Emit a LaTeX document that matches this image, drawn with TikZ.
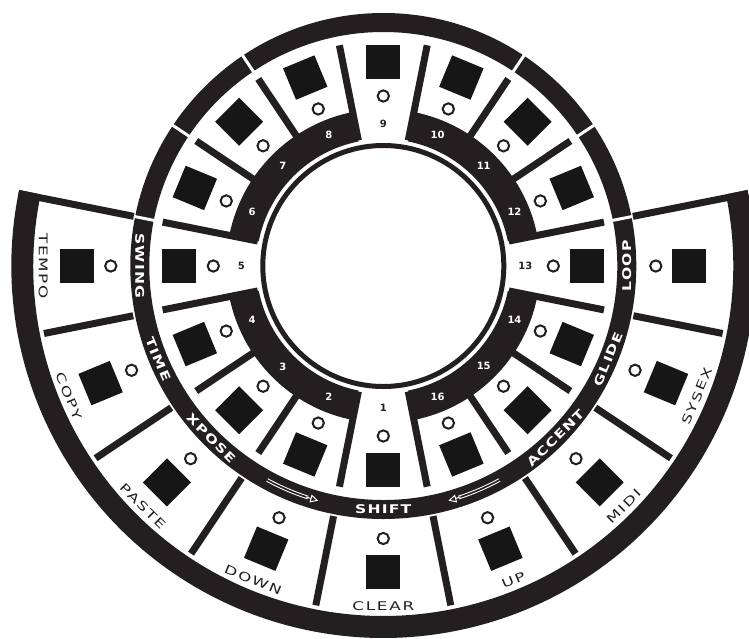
\documentclass[tikz,border=0pt]{standalone}
\usepackage{fontspec}
\setmainfont{DejaVu Sans}
\newfontfamily\padfont[FakeStretch=1.4, LetterSpace=15]{DejaVu Sans}
\newfontfamily\bandfont[FakeStretch=1.3, LetterSpace=10]{DejaVu Sans}
\usetikzlibrary{arrows.meta}
\definecolor{panelblack}{RGB}{35, 31, 32}
\definecolor{padblack}{RGB}{22, 22, 22}
\tikzset{
    pad/.style={rectangle, fill=padblack, minimum size=34pt, inner sep=0pt},
    led/.style={circle, draw=panelblack, fill=white, line width=2pt,
                minimum size=11.3pt, inner sep=0pt},
    stepnum/.style={font=\bfseries\fontsize{10}{10}\selectfont, inner sep=0pt},
    funclabel/.style={font=\padfont\fontsize{12}{12}\selectfont,
                      text=panelblack, inner sep=0pt},
    bandlabel/.style={font=\bandfont\bfseries\fontsize{12}{12}\selectfont,
                      text=white, inner sep=0pt},
    divider/.style={draw=panelblack, line width=7pt},
    bandgap/.style={draw=white, line width=3pt},
    shaftline/.style={draw=white, line width=0.9pt},
    shiftarr/.style={draw=white, line width=1pt,
                     -{Triangle[open, fill=panelblack, length=8pt, width=8pt]}},
}
% filled ring piece: start angle, end angle, inner radius, outer radius
\newcommand{\ringpiece}[4]{%
    \fill[panelblack] (#1:#3) arc[start angle=#1, end angle=#2, radius=#3]
        -- (#2:#4) arc[start angle=#2, end angle=#1, radius=#4] -- cycle;}

\begin{document}
\begin{tikzpicture}[x=1pt, y=1pt]
    \useasboundingbox (-383.3,-372) rectangle (365.7,266);
    \clip (-383.3,-372) rectangle (365.7,266);

    % Outer rim of the function ring
    \ringpiece{168.2}{371.8}{350}{372}

    % Label band
    \draw[panelblack, line width=19pt] (0,0) circle[radius=243.5];
    \foreach \g in {11.25, 33.75, 56.25, 123.75, 146.25, 168.75}
        \draw[bandgap] (\g:231) -- (\g:254.5);

    % Function ring dividers
    \foreach \d in {168.75, 11.25}
        \draw[divider] (\d:254.5) -- (\d:372);
    \foreach \i [evaluate=\i as \d using 191.25+22.5*\i] in {0,...,7}
        \draw[divider] (\d:255) -- (\d:346);

    % Step ring
    \ringpiece{101.25}{168.75}{127}{157}
    \ringpiece{11.25}{78.75}{127}{157}
    \ringpiece{191.25}{258.75}{127}{157}
    \ringpiece{281.25}{348.75}{127}{157}
    \foreach \i [evaluate=\i as \d using 11.25+22.5*\i] in {0,...,15}
        \draw[divider] (\d:128) -- (\d:225);

    % Display window
    \draw[panelblack, line width=5pt] (0,0) circle[radius=120.5];

    % Steps 1-16
    \foreach \k/\numcol in {1/panelblack, 2/white, 3/white, 4/white,
                            5/panelblack, 6/white, 7/white, 8/white,
                            9/panelblack, 10/white, 11/white, 12/white,
                            13/panelblack, 14/white, 15/white, 16/white} {
        \pgfmathsetmacro{\ang}{270-(\k-1)*22.5}
        \node[pad, rotate=\ang+90] (step\k) at (\ang:204) {};
        \node[led] (stepled\k) at (\ang:170) {};
        \node[stepnum, text=\numcol] (stepnum\k) at (\ang:142) {\k};
    }

    % Function keys
    \foreach \i in {0,...,8} {
        \pgfmathsetmacro{\ang}{180+\i*22.5}
        \node[pad, rotate=\ang+90] (fpad\i) at (\ang:306) {};
        \node[led] (fled\i) at (\ang:272.5) {};
    }
    \foreach \i/\txt in {0/TEMPO, 1/COPY, 2/PASTE, 3/DOWN, 4/CLEAR,
                         5/UP, 6/MIDI, 7/SYSEX} {
        \pgfmathsetmacro{\ang}{180+\i*22.5}
        \node[funclabel, rotate=\ang+90] (flbl\i) at (\ang:340) {\txt};
    }

    % Band labels
    \foreach \ang/\txt in {180/SWING, 202.5/TIME, 225/XPOSE, 270/SHIFT,
                           315/ACCENT, 337.5/GLIDE, 360/LOOP}
        \node[bandlabel, rotate=\ang+90] (band\txt) at (\ang:243.5) {\txt};

    % Shift arrows
    \coordinate (xposein) at (241.5:242.1);
    \coordinate (xposeout) at (241.5:244.9);
    \coordinate (xposehead) at (251.5:243.5);
    \draw[shaftline] (xposein) arc[start angle=241.5, end angle=252, radius=242.1];
    \draw[shaftline] (xposeout) arc[start angle=241.5, end angle=252, radius=244.9];
    \draw[shiftarr] (xposehead) arc[start angle=251.5, end angle=254.5, radius=243.5];
    \coordinate (accentin) at (298.5:242.1);
    \coordinate (accentout) at (298.5:244.9);
    \coordinate (accenthead) at (288.5:243.5);
    \draw[shaftline] (accentin) arc[start angle=298.5, end angle=288, radius=242.1];
    \draw[shaftline] (accentout) arc[start angle=298.5, end angle=288, radius=244.9];
    \draw[shiftarr] (accenthead) arc[start angle=288.5, end angle=285.5, radius=243.5];
\end{tikzpicture}
\end{document}
